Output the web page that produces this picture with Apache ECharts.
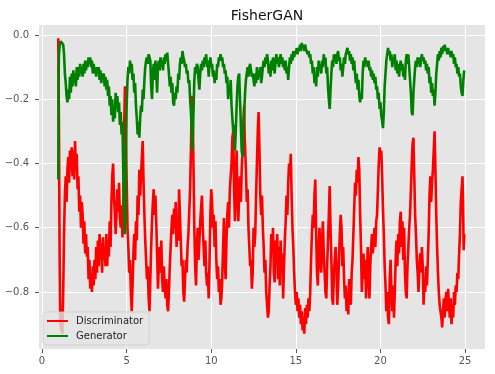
<!DOCTYPE html>
<html><head><meta charset="utf-8">
<script src="https://cdn.jsdelivr.net/npm/echarts@6/dist/echarts.min.js"></script>
<style>html,body{margin:0;padding:0;background:#fff}#c{width:495px;height:374px}</style>
</head><body><div id="c"></div>
<script>
const titleText = 'FisherGAN';
const seriesNames = ['Discriminator', 'Generator'];
const xTicks = [0, 5, 10, 15, 20, 25];
const yTicks = [-0.8, -0.6, -0.4, -0.2, 0.0];

const discPoints = [
[0.96,-0.01],[1.00,-0.30],[1.04,-0.70],[1.08,-0.90],[1.12,-0.92],[1.16,-0.85],[1.20,-0.93],[1.25,-0.80],[1.30,-0.62],[1.35,-0.50],
[1.40,-0.44],[1.45,-0.52],[1.50,-0.42],[1.55,-0.38],[1.60,-0.46],[1.65,-0.36],[1.70,-0.42],[1.75,-0.35],[1.80,-0.44],[1.85,-0.36],
[1.90,-0.45],[1.95,-0.33],[2.00,-0.42],[2.05,-0.37],[2.10,-0.48],[2.15,-0.44],[2.20,-0.55],[2.25,-0.50],[2.30,-0.60],[2.35,-0.52],
[2.40,-0.56],[2.45,-0.65],[2.50,-0.58],[2.55,-0.68],[2.60,-0.62],[2.65,-0.69],[2.70,-0.66],[2.75,-0.76],[2.80,-0.70],[2.85,-0.79],
[2.90,-0.74],[2.95,-0.80],[3.00,-0.72],[3.05,-0.78],[3.10,-0.70],[3.15,-0.76],[3.20,-0.66],[3.25,-0.74],[3.30,-0.64],[3.35,-0.72],
[3.40,-0.62],[3.45,-0.70],[3.50,-0.65],[3.55,-0.74],[3.60,-0.63],[3.65,-0.70],[3.70,-0.66],[3.75,-0.72],[3.80,-0.62],[3.85,-0.72],
[3.90,-0.64],[3.95,-0.69],[4.00,-0.58],[4.05,-0.66],[4.10,-0.52],[4.15,-0.44],[4.20,-0.40],[4.25,-0.50],[4.30,-0.55],[4.35,-0.62],
[4.40,-0.56],[4.45,-0.48],[4.50,-0.55],[4.55,-0.46],[4.60,-0.57],[4.65,-0.60],[4.70,-0.53],[4.75,-0.63],[4.80,-0.56],[4.85,-0.30],
[4.90,-0.16],[4.95,-0.32],[5.00,-0.45],[5.05,-0.60],[5.10,-0.66],[5.15,-0.74],[5.20,-0.70],[5.25,-0.80],[5.30,-0.86],[5.35,-0.78],
[5.40,-0.68],[5.45,-0.62],[5.50,-0.70],[5.55,-0.58],[5.60,-0.64],[5.65,-0.50],[5.70,-0.56],[5.75,-0.42],[5.80,-0.50],[5.85,-0.44],
[5.90,-0.38],[5.95,-0.33],[6.00,-0.46],[6.05,-0.56],[6.10,-0.64],[6.15,-0.70],[6.20,-0.76],[6.25,-0.72],[6.30,-0.82],[6.35,-0.86],
[6.40,-0.76],[6.45,-0.66],[6.50,-0.58],[6.55,-0.52],[6.60,-0.48],[6.65,-0.56],[6.70,-0.50],[6.75,-0.58],[6.80,-0.68],[6.85,-0.79],
[6.90,-0.72],[6.95,-0.66],[7.00,-0.74],[7.05,-0.64],[7.10,-0.76],[7.15,-0.80],[7.20,-0.72],[7.25,-0.78],[7.30,-0.82],[7.35,-0.76],
[7.40,-0.84],[7.45,-0.86],[7.50,-0.80],[7.55,-0.72],[7.60,-0.66],[7.65,-0.60],[7.70,-0.56],[7.75,-0.62],[7.80,-0.54],[7.85,-0.60],
[7.90,-0.52],[7.95,-0.66],[8.00,-0.58],[8.05,-0.64],[8.10,-0.48],[8.15,-0.56],[8.20,-0.64],[8.25,-0.72],[8.30,-0.70],[8.35,-0.80],
[8.40,-0.83],[8.45,-0.76],[8.50,-0.70],[8.55,-0.74],[8.60,-0.66],[8.65,-0.62],[8.70,-0.55],[8.75,-0.48],[8.80,-0.36],[8.85,-0.20],
[8.88,-0.19],[8.92,-0.30],[8.97,-0.48],[9.00,-0.60],[9.05,-0.72],[9.10,-0.78],[9.15,-0.66],[9.20,-0.60],[9.25,-0.70],[9.30,-0.64],
[9.35,-0.58],[9.40,-0.54],[9.45,-0.50],[9.50,-0.60],[9.55,-0.66],[9.60,-0.72],[9.65,-0.64],[9.70,-0.74],[9.75,-0.78],[9.80,-0.74],
[9.85,-0.82],[9.90,-0.70],[9.95,-0.56],[10.00,-0.48],[10.05,-0.52],[10.10,-0.60],[10.15,-0.56],[10.20,-0.66],[10.25,-0.58],[10.30,-0.70],
[10.35,-0.76],[10.40,-0.72],[10.45,-0.80],[10.50,-0.76],[10.55,-0.84],[10.60,-0.82],[10.65,-0.76],[10.70,-0.66],[10.75,-0.57],[10.80,-0.70],
[10.85,-0.76],[10.90,-0.64],[10.95,-0.56],[11.00,-0.52],[11.05,-0.60],[11.10,-0.48],[11.15,-0.44],[11.20,-0.40],[11.25,-0.32],[11.30,-0.30],
[11.35,-0.48],[11.40,-0.58],[11.45,-0.46],[11.50,-0.36],[11.55,-0.50],[11.60,-0.58],[11.65,-0.50],[11.70,-0.44],[11.75,-0.52],[11.80,-0.42],
[11.85,-0.36],[11.90,-0.28],[11.94,-0.22],[11.98,-0.32],[12.05,-0.42],[12.10,-0.52],[12.15,-0.48],[12.20,-0.60],[12.25,-0.66],[12.30,-0.72],
[12.35,-0.70],[12.40,-0.79],[12.45,-0.74],[12.50,-0.60],[12.55,-0.66],[12.60,-0.62],[12.65,-0.50],[12.70,-0.40],[12.75,-0.30],[12.80,-0.24],
[12.85,-0.36],[12.90,-0.50],[12.95,-0.56],[13.00,-0.50],[13.05,-0.60],[13.10,-0.66],[13.15,-0.74],[13.20,-0.70],[13.25,-0.80],[13.30,-0.84],
[13.35,-0.88],[13.40,-0.86],[13.45,-0.78],[13.50,-0.72],[13.55,-0.62],[13.60,-0.68],[13.65,-0.60],[13.70,-0.74],[13.75,-0.77],[13.80,-0.64],
[13.85,-0.72],[13.90,-0.62],[13.95,-0.76],[14.00,-0.66],[14.05,-0.78],[14.10,-0.64],[14.15,-0.74],[14.20,-0.68],[14.25,-0.82],[14.30,-0.72],
[14.35,-0.64],[14.40,-0.58],[14.45,-0.50],[14.50,-0.56],[14.55,-0.46],[14.60,-0.40],[14.65,-0.44],[14.70,-0.37],[14.75,-0.50],[14.80,-0.60],
[14.85,-0.66],[14.90,-0.74],[14.95,-0.80],[15.00,-0.84],[15.05,-0.80],[15.10,-0.86],[15.15,-0.82],[15.20,-0.88],[15.25,-0.84],[15.30,-0.90],
[15.35,-0.86],[15.40,-0.92],[15.45,-0.88],[15.50,-0.93],[15.55,-0.85],[15.60,-0.90],[15.65,-0.84],[15.70,-0.88],[15.75,-0.82],[15.80,-0.86],
[15.85,-0.80],[15.90,-0.70],[15.95,-0.62],[16.00,-0.56],[16.05,-0.60],[16.10,-0.50],[16.15,-0.45],[16.20,-0.62],[16.25,-0.74],[16.30,-0.78],
[16.35,-0.66],[16.40,-0.60],[16.45,-0.70],[16.50,-0.74],[16.55,-0.64],[16.60,-0.58],[16.65,-0.68],[16.70,-0.74],[16.75,-0.80],[16.80,-0.82],
[16.85,-0.72],[16.90,-0.64],[16.95,-0.56],[17.00,-0.47],[17.05,-0.60],[17.10,-0.70],[17.15,-0.82],[17.20,-0.84],[17.25,-0.74],[17.30,-0.70],
[17.35,-0.66],[17.40,-0.72],[17.45,-0.84],[17.50,-0.78],[17.55,-0.70],[17.60,-0.62],[17.65,-0.56],[17.70,-0.60],[17.75,-0.72],[17.80,-0.66],
[17.85,-0.76],[17.90,-0.82],[17.95,-0.78],[18.00,-0.86],[18.05,-0.80],[18.10,-0.87],[18.15,-0.76],[18.20,-0.80],[18.25,-0.84],[18.30,-0.74],
[18.35,-0.70],[18.40,-0.62],[18.45,-0.54],[18.50,-0.46],[18.55,-0.50],[18.60,-0.42],[18.65,-0.46],[18.70,-0.38],[18.75,-0.42],[18.80,-0.56],
[18.85,-0.66],[18.90,-0.80],[18.95,-0.74],[19.00,-0.68],[19.05,-0.76],[19.10,-0.70],[19.15,-0.82],[19.20,-0.74],[19.25,-0.66],[19.30,-0.74],
[19.35,-0.82],[19.40,-0.72],[19.45,-0.66],[19.50,-0.62],[19.55,-0.68],[19.60,-0.64],[19.65,-0.60],[19.70,-0.66],[19.75,-0.58],[19.80,-0.56],
[19.85,-0.48],[19.90,-0.40],[19.95,-0.35],[20.00,-0.38],[20.05,-0.36],[20.10,-0.44],[20.15,-0.54],[20.20,-0.62],[20.25,-0.72],[20.30,-0.78],
[20.35,-0.86],[20.40,-0.80],[20.45,-0.88],[20.50,-0.90],[20.55,-0.76],[20.60,-0.70],[20.65,-0.80],[20.70,-0.86],[20.75,-0.78],[20.80,-0.88],
[20.85,-0.80],[20.90,-0.70],[20.95,-0.64],[21.00,-0.72],[21.05,-0.62],[21.10,-0.68],[21.15,-0.58],[21.20,-0.55],[21.25,-0.66],[21.30,-0.58],
[21.35,-0.70],[21.40,-0.60],[21.45,-0.74],[21.50,-0.80],[21.55,-0.82],[21.60,-0.72],[21.65,-0.66],[21.70,-0.60],[21.75,-0.56],[21.80,-0.48],
[21.85,-0.40],[21.90,-0.34],[21.95,-0.32],[22.00,-0.44],[22.05,-0.56],[22.10,-0.62],[22.15,-0.70],[22.20,-0.74],[22.25,-0.80],[22.30,-0.72],
[22.35,-0.68],[22.40,-0.74],[22.45,-0.66],[22.50,-0.72],[22.55,-0.84],[22.60,-0.76],[22.65,-0.80],[22.70,-0.72],[22.75,-0.78],[22.80,-0.70],
[22.85,-0.62],[22.90,-0.50],[22.95,-0.44],[23.00,-0.52],[23.05,-0.46],[23.10,-0.42],[23.15,-0.36],[23.20,-0.30],[23.25,-0.42],[23.30,-0.56],
[23.35,-0.66],[23.40,-0.74],[23.45,-0.80],[23.50,-0.84],[23.55,-0.86],[23.60,-0.88],[23.65,-0.91],[23.70,-0.86],[23.75,-0.82],[23.80,-0.88],
[23.85,-0.82],[23.90,-0.80],[23.95,-0.86],[24.00,-0.79],[24.05,-0.84],[24.10,-0.88],[24.15,-0.82],[24.20,-0.90],[24.25,-0.84],[24.30,-0.88],
[24.35,-0.80],[24.40,-0.84],[24.45,-0.78],[24.50,-0.80],[24.55,-0.74],[24.60,-0.76],[24.65,-0.68],[24.70,-0.62],[24.75,-0.52],[24.80,-0.48],
[24.85,-0.44],[24.88,-0.52],[24.92,-0.67],[24.96,-0.62]
];

const genPoints = [
[0.96,-0.45],[0.97,-0.30],[0.98,-0.12],[1.00,-0.06],[1.05,-0.03],[1.10,-0.02],[1.15,-0.015],[1.20,-0.02],[1.25,-0.03],[1.30,-0.06],
[1.35,-0.12],[1.40,-0.15],[1.45,-0.19],[1.50,-0.21],[1.55,-0.17],[1.60,-0.20],[1.65,-0.13],[1.70,-0.18],[1.75,-0.12],[1.80,-0.16],
[1.85,-0.11],[1.90,-0.15],[1.95,-0.12],[2.00,-0.16],[2.05,-0.10],[2.10,-0.14],[2.15,-0.10],[2.20,-0.13],[2.25,-0.09],[2.30,-0.12],
[2.35,-0.10],[2.40,-0.13],[2.45,-0.09],[2.50,-0.12],[2.55,-0.08],[2.60,-0.11],[2.65,-0.08],[2.70,-0.10],[2.75,-0.07],[2.80,-0.09],
[2.85,-0.07],[2.90,-0.10],[2.95,-0.08],[3.00,-0.12],[3.05,-0.09],[3.10,-0.12],[3.15,-0.10],[3.20,-0.13],[3.25,-0.10],[3.30,-0.12],
[3.35,-0.10],[3.40,-0.14],[3.45,-0.11],[3.50,-0.15],[3.55,-0.12],[3.60,-0.14],[3.65,-0.12],[3.70,-0.16],[3.75,-0.13],[3.80,-0.17],
[3.85,-0.14],[3.90,-0.19],[3.95,-0.16],[4.00,-0.22],[4.05,-0.19],[4.10,-0.25],[4.15,-0.20],[4.20,-0.27],[4.25,-0.22],[4.30,-0.26],
[4.35,-0.18],[4.40,-0.23],[4.45,-0.19],[4.50,-0.24],[4.55,-0.21],[4.60,-0.28],[4.65,-0.24],[4.70,-0.31],[4.75,-0.27],[4.80,-0.42],
[4.85,-0.56],[4.90,-0.62],[4.93,-0.58],[4.96,-0.38],[5.00,-0.22],[5.05,-0.14],[5.10,-0.10],[5.15,-0.12],[5.20,-0.08],[5.25,-0.11],
[5.30,-0.09],[5.35,-0.14],[5.40,-0.12],[5.45,-0.18],[5.50,-0.15],[5.55,-0.22],[5.60,-0.26],[5.65,-0.31],[5.70,-0.27],[5.75,-0.32],
[5.80,-0.26],[5.85,-0.22],[5.90,-0.24],[5.95,-0.17],[6.00,-0.20],[6.05,-0.14],[6.10,-0.10],[6.15,-0.08],[6.20,-0.07],[6.25,-0.09],
[6.30,-0.06],[6.35,-0.055],[6.40,-0.08],[6.45,-0.16],[6.50,-0.20],[6.55,-0.12],[6.60,-0.09],[6.65,-0.14],[6.70,-0.08],[6.75,-0.12],
[6.80,-0.18],[6.85,-0.10],[6.90,-0.08],[6.95,-0.11],[7.00,-0.07],[7.05,-0.10],[7.10,-0.08],[7.15,-0.11],[7.20,-0.07],[7.25,-0.09],
[7.30,-0.06],[7.35,-0.08],[7.40,-0.055],[7.45,-0.09],[7.50,-0.12],[7.55,-0.16],[7.60,-0.13],[7.65,-0.18],[7.70,-0.15],[7.75,-0.21],
[7.80,-0.22],[7.85,-0.18],[7.90,-0.20],[7.95,-0.16],[8.00,-0.18],[8.05,-0.12],[8.10,-0.14],[8.15,-0.09],[8.20,-0.07],[8.25,-0.09],
[8.30,-0.05],[8.35,-0.07],[8.40,-0.08],[8.45,-0.10],[8.50,-0.09],[8.55,-0.12],[8.60,-0.11],[8.65,-0.15],[8.70,-0.14],[8.75,-0.20],
[8.80,-0.24],[8.85,-0.30],[8.88,-0.36],[8.92,-0.30],[8.97,-0.20],[9.00,-0.14],[9.05,-0.10],[9.10,-0.12],[9.15,-0.09],[9.20,-0.10],
[9.25,-0.14],[9.30,-0.17],[9.35,-0.12],[9.40,-0.09],[9.45,-0.11],[9.50,-0.08],[9.55,-0.10],[9.60,-0.07],[9.65,-0.09],[9.70,-0.06],
[9.75,-0.10],[9.80,-0.08],[9.85,-0.13],[9.90,-0.09],[9.95,-0.07],[10.00,-0.10],[10.05,-0.09],[10.10,-0.13],[10.15,-0.11],[10.20,-0.15],
[10.25,-0.12],[10.30,-0.14],[10.35,-0.09],[10.40,-0.10],[10.45,-0.07],[10.50,-0.08],[10.55,-0.06],[10.60,-0.08],[10.65,-0.07],[10.70,-0.10],
[10.75,-0.09],[10.80,-0.12],[10.85,-0.11],[10.90,-0.15],[10.95,-0.13],[11.00,-0.20],[11.05,-0.16],[11.10,-0.18],[11.15,-0.14],[11.20,-0.22],
[11.25,-0.26],[11.30,-0.30],[11.35,-0.28],[11.40,-0.36],[11.45,-0.30],[11.50,-0.22],[11.55,-0.16],[11.60,-0.13],[11.65,-0.12],[11.70,-0.20],
[11.75,-0.28],[11.80,-0.36],[11.85,-0.38],[11.90,-0.30],[11.95,-0.24],[12.00,-0.18],[12.05,-0.14],[12.10,-0.12],[12.15,-0.10],[12.20,-0.13],
[12.25,-0.10],[12.30,-0.09],[12.35,-0.11],[12.40,-0.13],[12.45,-0.12],[12.50,-0.14],[12.55,-0.16],[12.60,-0.12],[12.65,-0.15],[12.70,-0.10],
[12.75,-0.14],[12.80,-0.11],[12.85,-0.13],[12.90,-0.10],[12.95,-0.15],[13.00,-0.13],[13.05,-0.10],[13.10,-0.08],[13.15,-0.10],[13.20,-0.07],
[13.25,-0.09],[13.30,-0.06],[13.35,-0.08],[13.40,-0.12],[13.45,-0.09],[13.50,-0.13],[13.55,-0.08],[13.60,-0.11],[13.65,-0.07],[13.70,-0.10],
[13.75,-0.12],[13.80,-0.08],[13.85,-0.06],[13.90,-0.09],[13.95,-0.07],[14.00,-0.10],[14.05,-0.08],[14.10,-0.06],[14.15,-0.09],[14.20,-0.07],
[14.25,-0.10],[14.30,-0.08],[14.35,-0.11],[14.40,-0.08],[14.45,-0.12],[14.50,-0.10],[14.55,-0.14],[14.60,-0.10],[14.65,-0.07],[14.70,-0.09],
[14.75,-0.06],[14.80,-0.08],[14.85,-0.05],[14.90,-0.07],[14.95,-0.05],[15.00,-0.06],[15.05,-0.04],[15.10,-0.06],[15.15,-0.04],[15.20,-0.05],
[15.25,-0.03],[15.30,-0.05],[15.35,-0.025],[15.40,-0.04],[15.45,-0.03],[15.50,-0.05],[15.55,-0.03],[15.60,-0.045],[15.65,-0.04],[15.70,-0.06],
[15.75,-0.05],[15.80,-0.07],[15.85,-0.06],[15.90,-0.09],[15.95,-0.08],[16.00,-0.12],[16.05,-0.10],[16.10,-0.15],[16.15,-0.12],[16.20,-0.16],
[16.25,-0.10],[16.30,-0.13],[16.35,-0.08],[16.40,-0.11],[16.45,-0.09],[16.50,-0.12],[16.55,-0.08],[16.60,-0.10],[16.65,-0.06],[16.70,-0.09],
[16.75,-0.07],[16.80,-0.12],[16.85,-0.10],[16.90,-0.16],[16.95,-0.20],[17.00,-0.23],[17.05,-0.17],[17.10,-0.12],[17.15,-0.08],[17.20,-0.10],
[17.25,-0.06],[17.30,-0.08],[17.35,-0.06],[17.40,-0.09],[17.45,-0.06],[17.50,-0.05],[17.55,-0.08],[17.60,-0.07],[17.65,-0.11],[17.70,-0.09],
[17.75,-0.13],[17.80,-0.10],[17.85,-0.07],[17.90,-0.09],[17.95,-0.06],[18.00,-0.05],[18.05,-0.04],[18.10,-0.06],[18.15,-0.05],[18.20,-0.08],
[18.25,-0.06],[18.30,-0.09],[18.35,-0.07],[18.40,-0.11],[18.45,-0.08],[18.50,-0.12],[18.55,-0.15],[18.60,-0.12],[18.65,-0.17],[18.70,-0.14],
[18.75,-0.19],[18.80,-0.21],[18.85,-0.18],[18.90,-0.20],[18.95,-0.12],[19.00,-0.08],[19.05,-0.10],[19.10,-0.07],[19.15,-0.09],[19.20,-0.08],
[19.25,-0.10],[19.30,-0.08],[19.35,-0.11],[19.40,-0.10],[19.45,-0.13],[19.50,-0.11],[19.55,-0.14],[19.60,-0.12],[19.65,-0.15],[19.70,-0.13],
[19.75,-0.17],[19.80,-0.16],[19.85,-0.20],[19.90,-0.18],[19.95,-0.23],[20.00,-0.21],[20.05,-0.25],[20.10,-0.27],[20.15,-0.29],[20.20,-0.24],
[20.25,-0.16],[20.30,-0.12],[20.35,-0.08],[20.40,-0.06],[20.45,-0.04],[20.50,-0.06],[20.55,-0.05],[20.60,-0.08],[20.65,-0.06],[20.70,-0.10],
[20.75,-0.07],[20.80,-0.09],[20.85,-0.06],[20.90,-0.11],[20.95,-0.08],[21.00,-0.12],[21.05,-0.09],[21.10,-0.13],[21.15,-0.10],[21.20,-0.08],
[21.25,-0.11],[21.30,-0.09],[21.35,-0.13],[21.40,-0.10],[21.45,-0.14],[21.50,-0.08],[21.55,-0.06],[21.60,-0.09],[21.65,-0.06],[21.70,-0.10],
[21.75,-0.14],[21.80,-0.18],[21.85,-0.24],[21.90,-0.25],[21.95,-0.18],[22.00,-0.14],[22.05,-0.10],[22.10,-0.08],[22.15,-0.10],[22.20,-0.07],
[22.25,-0.09],[22.30,-0.07],[22.35,-0.10],[22.40,-0.08],[22.45,-0.06],[22.50,-0.08],[22.55,-0.07],[22.60,-0.09],[22.65,-0.08],[22.70,-0.11],
[22.75,-0.09],[22.80,-0.12],[22.85,-0.10],[22.90,-0.15],[22.95,-0.13],[23.00,-0.18],[23.05,-0.15],[23.10,-0.19],[23.15,-0.17],[23.20,-0.22],
[23.25,-0.18],[23.30,-0.12],[23.35,-0.09],[23.40,-0.06],[23.45,-0.08],[23.50,-0.05],[23.55,-0.07],[23.60,-0.04],[23.65,-0.06],[23.70,-0.035],
[23.75,-0.05],[23.80,-0.03],[23.85,-0.05],[23.90,-0.04],[23.95,-0.06],[24.00,-0.04],[24.05,-0.06],[24.10,-0.05],[24.15,-0.07],[24.20,-0.05],
[24.25,-0.07],[24.30,-0.06],[24.35,-0.09],[24.40,-0.07],[24.45,-0.10],[24.50,-0.09],[24.55,-0.12],[24.60,-0.10],[24.65,-0.13],[24.70,-0.12],
[24.75,-0.16],[24.80,-0.18],[24.85,-0.19],[24.90,-0.14],[24.95,-0.11]
];

const fontFamily = '"DejaVu Sans", sans-serif';
const fmtY = v => (Math.abs(v) < 1e-9 ? '0.0' : (v < 0 ? '\u2212' : '') + Math.abs(v).toFixed(1));

const chart = echarts.init(document.getElementById('c'), null, {renderer: 'canvas'});
chart.setOption({
  animation: false,
  backgroundColor: '#ffffff',
  title: {
    text: titleText, left: 262, top: 4, textAlign: 'center',
    textStyle: {fontFamily, fontSize: 14, fontWeight: 'normal', color: '#111'}
  },
  grid: {left: 39, right: 10, top: 25, bottom: 25, show: true, backgroundColor: '#E5E5E5', borderWidth: 0},
  legend: {
    data: seriesNames, orient: 'vertical', left: 43, bottom: 29,
    icon: 'rect', itemWidth: 21, itemHeight: 2, itemGap: 3,
    padding: [3, 6, 3, 4],
    backgroundColor: 'rgba(229,229,229,0.8)', borderColor: 'rgba(204,204,204,0.8)', borderWidth: 1, borderRadius: 3,
    textStyle: {fontFamily, fontSize: 10, color: '#222', lineHeight: 12, padding: [0, 0, 0, 3]}
  },
  xAxis: {
    type: 'value', min: -0.18, max: 26.18,
    axisLine: {show: false, onZero: false},
    axisTick: {show: true, customValues: xTicks, length: 4, lineStyle: {color: '#555'}},
    axisLabel: {customValues: xTicks, fontFamily, fontSize: 10, color: '#555', margin: 7},
    splitLine: {show: true, lineStyle: {color: '#ffffff', width: 1}}
  },
  yAxis: {
    type: 'value', min: -0.9775, max: 0.031,
    axisLine: {show: false, onZero: false},
    axisTick: {show: true, customValues: yTicks, length: 4, lineStyle: {color: '#555'}},
    axisLabel: {customValues: yTicks, formatter: fmtY, fontFamily, fontSize: 10, color: '#555', margin: 10},
    splitLine: {show: true, lineStyle: {color: '#ffffff', width: 1}}
  },
  series: [
    {name: seriesNames[0], type: 'line', data: discPoints, showSymbol: false, symbol: 'none',
     lineStyle: {color: '#FF0000', width: 2.6}, itemStyle: {color: '#FF0000'}, z: 2},
    {name: seriesNames[1], type: 'line', data: genPoints, showSymbol: false, symbol: 'none',
     lineStyle: {color: '#008000', width: 2.6}, itemStyle: {color: '#008000'}, z: 3}
  ]
});
</script>
</body></html>
